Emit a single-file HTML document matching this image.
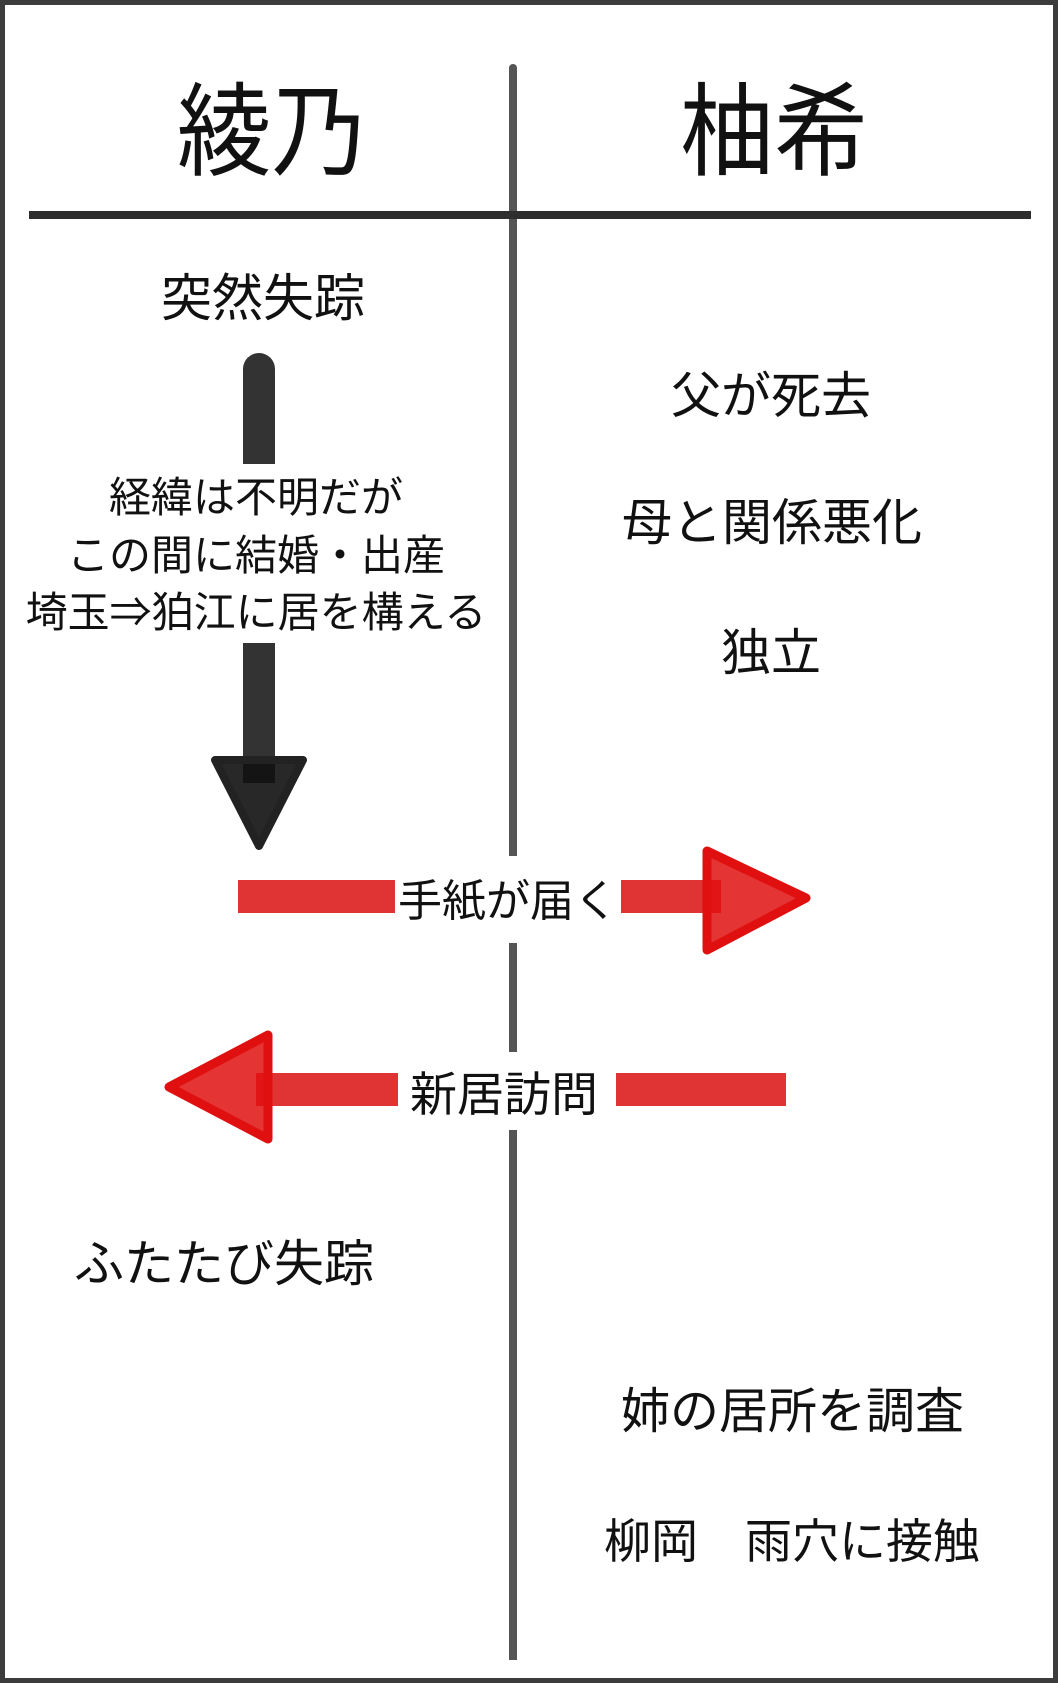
<!DOCTYPE html>
<html><head><meta charset="utf-8">
<style>
html,body{margin:0;padding:0;}
body{width:1058px;height:1683px;position:relative;background:#fff;overflow:hidden;
font-family:"Liberation Sans","Noto Sans CJK JP",sans-serif;color:#111;}
.frame{position:absolute;left:0;top:0;width:1048px;height:1673px;border:5px solid #3c3c3c;}
.t{position:absolute;white-space:nowrap;line-height:1;font-weight:400;}
.abs{position:absolute;}
</style></head><body>
<div class="frame"></div>
<div class="abs" style="left:509px;top:64px;width:8px;height:792px;background:#555;border-radius:4px 4px 0 0;"></div>
<div class="abs" style="left:509px;top:943px;width:8px;height:109px;background:#555;"></div>
<div class="abs" style="left:509px;top:1130px;width:8px;height:530px;background:#555;"></div>
<div class="abs" style="left:29px;top:211px;width:1002px;height:8px;background:#2e2e2e;"></div>

<div class="t" style="left:177px;top:82px;font-size:94px;transform:scaleY(1.08);transform-origin:top left;">綾乃</div>
<div class="t" style="left:680px;top:82px;font-size:94px;transform:scaleY(1.08);transform-origin:top left;">柚希</div>

<div class="t" style="left:161px;top:273px;font-size:51px;">突然失踪</div>

<div class="abs" style="left:243px;top:353px;width:32px;height:111px;background:#333;border-radius:16px 16px 0 0;"></div>
<div class="abs" style="left:243px;top:643px;width:32px;height:140px;background:#333;"></div>
<svg class="abs" style="left:205px;top:750px;" width="110" height="105">
<polygon points="10,10 98,10 54,96" fill="#111" fill-opacity="0.9" stroke="#222" stroke-width="8" stroke-linejoin="round"/>
</svg>

<div class="t" style="left:16px;width:480px;text-align:center;top:477px;font-size:42px;">経緯は不明だが</div>
<div class="t" style="left:16px;width:480px;text-align:center;top:535px;font-size:42px;">この間に結婚・出産</div>
<div class="t" style="left:16px;width:480px;text-align:center;top:592px;font-size:42px;">埼玉⇒狛江に居を構える</div>

<div class="t" style="left:671px;top:371px;font-size:50px;">父が死去</div>
<div class="t" style="left:622px;top:498px;font-size:50px;">母と関係悪化</div>
<div class="t" style="left:721px;top:628px;font-size:50px;">独立</div>

<div class="abs" style="left:238px;top:880px;width:157px;height:33px;background:#e03434;"></div>
<div class="abs" style="left:621px;top:880px;width:100px;height:33px;background:#e03434;"></div>
<svg class="abs" style="left:698px;top:842px;" width="118" height="118">
<polygon points="9,9 108,56 9,108" fill="#e01010" fill-opacity="0.85" stroke="#e01010" stroke-width="9" stroke-linejoin="round"/>
</svg>
<div class="t" style="left:398px;top:880px;font-size:44px;">手紙が届く</div>

<div class="abs" style="left:256px;top:1073px;width:142px;height:33px;background:#e03434;"></div>
<div class="abs" style="left:616px;top:1073px;width:170px;height:33px;background:#e03434;"></div>
<svg class="abs" style="left:160px;top:1027px;" width="118" height="120">
<polygon points="108,8 9,60 108,112" fill="#e01010" fill-opacity="0.85" stroke="#e01010" stroke-width="9" stroke-linejoin="round"/>
</svg>
<div class="t" style="left:410px;top:1071px;font-size:47px;">新居訪問</div>

<div class="t" style="left:74px;top:1239px;font-size:50px;">ふたたび失踪</div>
<div class="t" style="left:621px;top:1388px;font-size:49px;">姉の居所を調査</div>
<div class="t" style="left:604px;top:1518px;font-size:47px;">柳岡　雨穴に接触</div>
</body></html>
